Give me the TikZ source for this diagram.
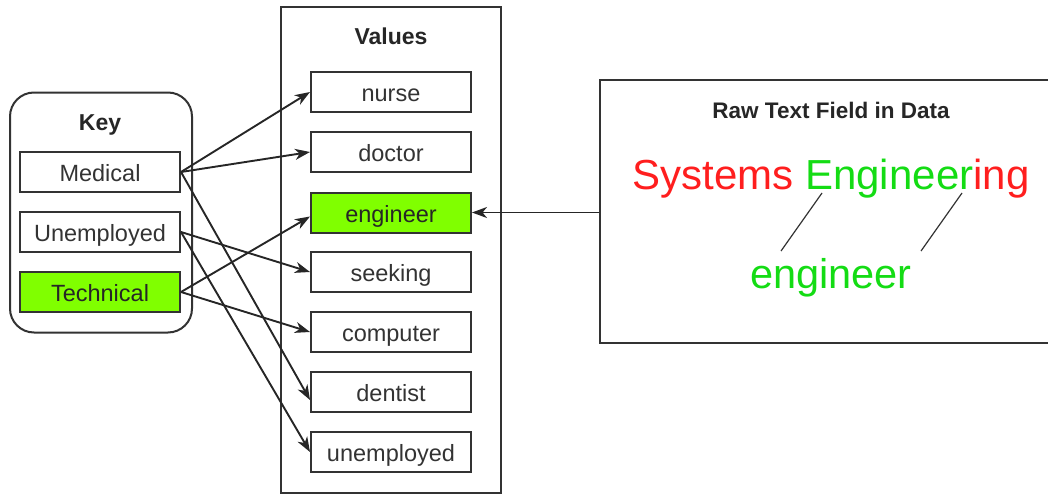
\documentclass[tikz,border=0pt]{standalone}
\usepackage{fontspec}
\setmainfont{Liberation Sans}
\usetikzlibrary{arrows.meta,calc}
\definecolor{lime}{RGB}{128,255,0}
\definecolor{txt}{RGB}{51,51,51}
\definecolor{rawred}{RGB}{255,30,30}
\definecolor{rawgreen}{RGB}{20,220,20}
\begin{document}
\begin{tikzpicture}[x=1pt,y=-1pt,
  item/.style={draw=txt, line width=2pt, minimum width=160pt, minimum height=40pt,
    inner sep=0pt, font=\fontsize{23.5}{28}\selectfont, text=txt, text height=19pt, text depth=0pt},
  hot/.style={item, fill=lime, text=black!85},
  cont/.style={draw=txt, line width=2pt, inner sep=0pt},
  title/.style={font=\bfseries\fontsize{23}{28}\selectfont, text=black!85, anchor=base, inner sep=0pt},
  conn/.style={line width=1.9pt, draw=black!85, -{Stealth[length=15pt,width=11pt,inset=4.5pt]}},
  thin/.style={line width=1.2pt, draw=txt}]
\clip (0,0) rectangle (1048,495);
\useasboundingbox (0,0) rectangle (1048,495);
% containers
\node[cont, rounded corners=24pt, minimum width=182pt, minimum height=240pt] (keybox) at (101,212.5) {};
\node[title] (keyt) at (100,130) {Key};
\node[cont, minimum width=220pt, minimum height=486pt] (valbox) at (391,250) {};
\node[title] (valt) at (391,45) {Values};
\node[cont, minimum width=470pt, minimum height=263pt] (raw) at (835,211.5) {};
\node[title, font=\bfseries\fontsize{22.5}{28}\selectfont] (rawt) at (831,118) {Raw Text Field in Data};
% key items
\node[item] (medical) at (100,172) {Medical};
\node[item] (unemp) at (100,232) {Unemployed};
\node[hot] (tech) at (100,292) {Technical};
% value items
\node[item] (nurse) at (391,92) {nurse};
\node[item] (doctor) at (391,152) {doctor};
\node[hot] (engineer) at (391,212.5) {engineer};
\node[item] (seeking) at (391,272) {seeking};
\node[item] (computer) at (391,332) {computer};
\node[item] (dentist) at (391,392) {dentist};
\node[item] (unemployed) at (391,452) {unemployed};
% raw text
\node[anchor=base, inner sep=0pt, font=\fontsize{42}{48}\selectfont] (sys) at (831,189)
  {\textcolor{rawred}{Systems }\textcolor{rawgreen}{Engineer}\textcolor{rawred}{ing}};
\node[anchor=base, inner sep=0pt, font=\fontsize{41.5}{48}\selectfont, text=rawgreen] (eng) at (831,288) {engineer};
\coordinate (l1a) at (822,193);
\coordinate (l1b) at (781,251);
\coordinate (l2a) at (962,193);
\coordinate (l2b) at (921,251);
\draw[thin] (l1a) -- (l1b);
\draw[thin] (l2a) -- (l2b);
% connectors
\draw[conn] (medical.east) -- (nurse.west);
\draw[conn] (medical.east) -- (doctor.west);
\draw[conn] (medical.east) -- ($(dentist.west)+(0,8)$);
\draw[conn] (unemp.east) -- (seeking.west);
\draw[conn] (unemp.east) -- (unemployed.west);
\draw[conn] (tech.east) -- ($(engineer.west)+(0,4)$);
\draw[conn] (tech.east) -- (computer.west);
\draw[conn] (raw.west |- engineer.east) -- (engineer.east);
\end{tikzpicture}
\end{document}
